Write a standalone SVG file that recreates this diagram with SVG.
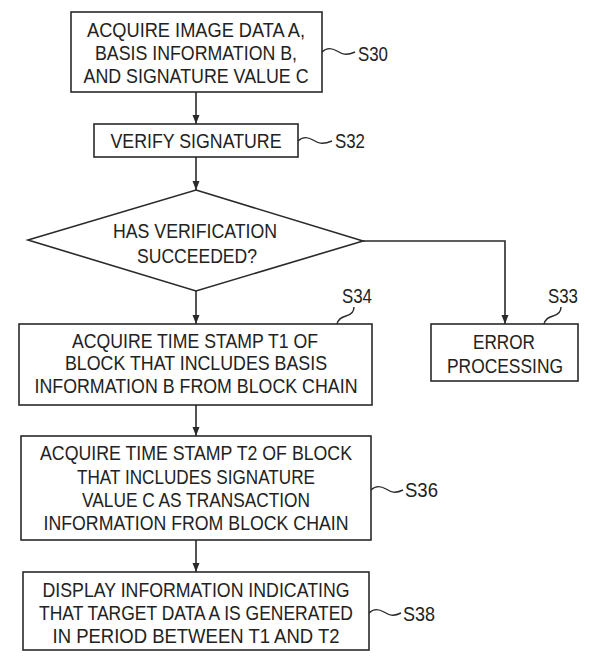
<svg xmlns="http://www.w3.org/2000/svg" width="593" height="657" viewBox="0 0 593 657">
<style>
.box{fill:#fff;stroke:#2a2a2a;stroke-width:1.6}
.t{font-family:"Liberation Sans",Arial,sans-serif;font-size:21px;fill:#222;text-anchor:middle}
.lbl{font-family:"Liberation Sans",Arial,sans-serif;font-size:21px;fill:#222}
.c{fill:none;stroke:#2a2a2a;stroke-width:1.6}
.sq{fill:none;stroke:#2a2a2a;stroke-width:1.4}
</style>
<defs>
<marker id="ah" markerUnits="userSpaceOnUse" markerWidth="9" markerHeight="8" refX="9" refY="4" orient="auto">
<path d="M0,0.5 L9,4 L0,7.5 z" fill="#2a2a2a"/>
</marker>
</defs>
<rect width="593" height="657" fill="#fff"/>
<g id="connectors">
<path class="c" d="M196,92 V124" marker-end="url(#ah)"/>
<path class="c" d="M196,157 V190" marker-end="url(#ah)"/>
<path class="c" d="M196,291 V324" marker-end="url(#ah)"/>
<path class="c" d="M363,241 H505 V324" marker-end="url(#ah)"/>
<path class="c" d="M196,405 V436" marker-end="url(#ah)"/>
<path class="c" d="M196,540 V572" marker-end="url(#ah)"/>
</g>
<g id="s30">
<rect class="box" x="71" y="12" width="251" height="80"/>
<text class="t" x="196" y="37" textLength="218" lengthAdjust="spacingAndGlyphs">ACQUIRE IMAGE DATA A,</text>
<text class="t" x="196" y="60" textLength="202" lengthAdjust="spacingAndGlyphs">BASIS INFORMATION B,</text>
<text class="t" x="196" y="83" textLength="225" lengthAdjust="spacingAndGlyphs">AND SIGNATURE VALUE C</text>
<path class="sq" d="M322,52 C327,47 332,48 337,51 S346,56 355,52"/>
<text class="lbl" x="358" y="61" textLength="30" lengthAdjust="spacingAndGlyphs">S30</text>
</g>
<g id="s32">
<rect class="box" x="94" y="124" width="204" height="33"/>
<text class="t" x="196" y="148" textLength="171" lengthAdjust="spacingAndGlyphs">VERIFY SIGNATURE</text>
<path class="sq" d="M298,141 C303,136 308,137 313,140 S322,145 332,141"/>
<text class="lbl" x="335" y="148" textLength="30" lengthAdjust="spacingAndGlyphs">S32</text>
</g>
<g id="decision">
<polygon class="box" points="196,190 363,241 196,291 28,240"/>
<text class="t" x="195" y="238" textLength="164" lengthAdjust="spacingAndGlyphs">HAS VERIFICATION</text>
<text class="t" x="197" y="263" textLength="120" lengthAdjust="spacingAndGlyphs">SUCCEEDED?</text>
</g>
<g id="s34">
<rect class="box" x="19" y="324" width="353" height="81"/>
<text class="t" x="195" y="348" textLength="246" lengthAdjust="spacingAndGlyphs">ACQUIRE TIME STAMP T1 OF</text>
<text class="t" x="196" y="370" textLength="262" lengthAdjust="spacingAndGlyphs">BLOCK THAT INCLUDES BASIS</text>
<text class="t" x="196" y="393" textLength="323" lengthAdjust="spacingAndGlyphs">INFORMATION B FROM BLOCK CHAIN</text>
<path class="sq" d="M354,307 C354,313 350,315 346,316 S338,320 337,324"/>
<text class="lbl" x="342" y="303" textLength="30" lengthAdjust="spacingAndGlyphs">S34</text>
</g>
<g id="s33">
<rect class="box" x="431" y="324" width="147" height="57"/>
<text class="t" x="504" y="349" textLength="62" lengthAdjust="spacingAndGlyphs">ERROR</text>
<text class="t" x="505" y="373" textLength="116" lengthAdjust="spacingAndGlyphs">PROCESSING</text>
<path class="sq" d="M561,307 C561,313 557,315 553,316 S545,320 544,324"/>
<text class="lbl" x="548" y="303" textLength="30" lengthAdjust="spacingAndGlyphs">S33</text>
</g>
<g id="s36">
<rect class="box" x="21" y="436" width="350" height="104"/>
<text class="t" x="196" y="460" textLength="312" lengthAdjust="spacingAndGlyphs">ACQUIRE TIME STAMP T2 OF BLOCK</text>
<text class="t" x="196" y="484" textLength="238" lengthAdjust="spacingAndGlyphs">THAT INCLUDES SIGNATURE</text>
<text class="t" x="196" y="507" textLength="228" lengthAdjust="spacingAndGlyphs">VALUE C AS TRANSACTION</text>
<text class="t" x="196" y="530" textLength="305" lengthAdjust="spacingAndGlyphs">INFORMATION FROM BLOCK CHAIN</text>
<path class="sq" d="M371,490 C376,485 381,486 386,489 S395,494 403,490"/>
<text class="lbl" x="405" y="497" textLength="33" lengthAdjust="spacingAndGlyphs">S36</text>
</g>
<g id="s38">
<rect class="box" x="23" y="572" width="346" height="78"/>
<text class="t" x="196" y="597" textLength="307" lengthAdjust="spacingAndGlyphs">DISPLAY INFORMATION INDICATING</text>
<text class="t" x="196" y="620" textLength="314" lengthAdjust="spacingAndGlyphs">THAT TARGET DATA A IS GENERATED</text>
<text class="t" x="196" y="643" textLength="287" lengthAdjust="spacingAndGlyphs">IN PERIOD BETWEEN T1 AND T2</text>
<path class="sq" d="M369,613 C374,608 379,609 384,612 S393,617 401,613"/>
<text class="lbl" x="403" y="621" textLength="32" lengthAdjust="spacingAndGlyphs">S38</text>
</g>
</svg>
